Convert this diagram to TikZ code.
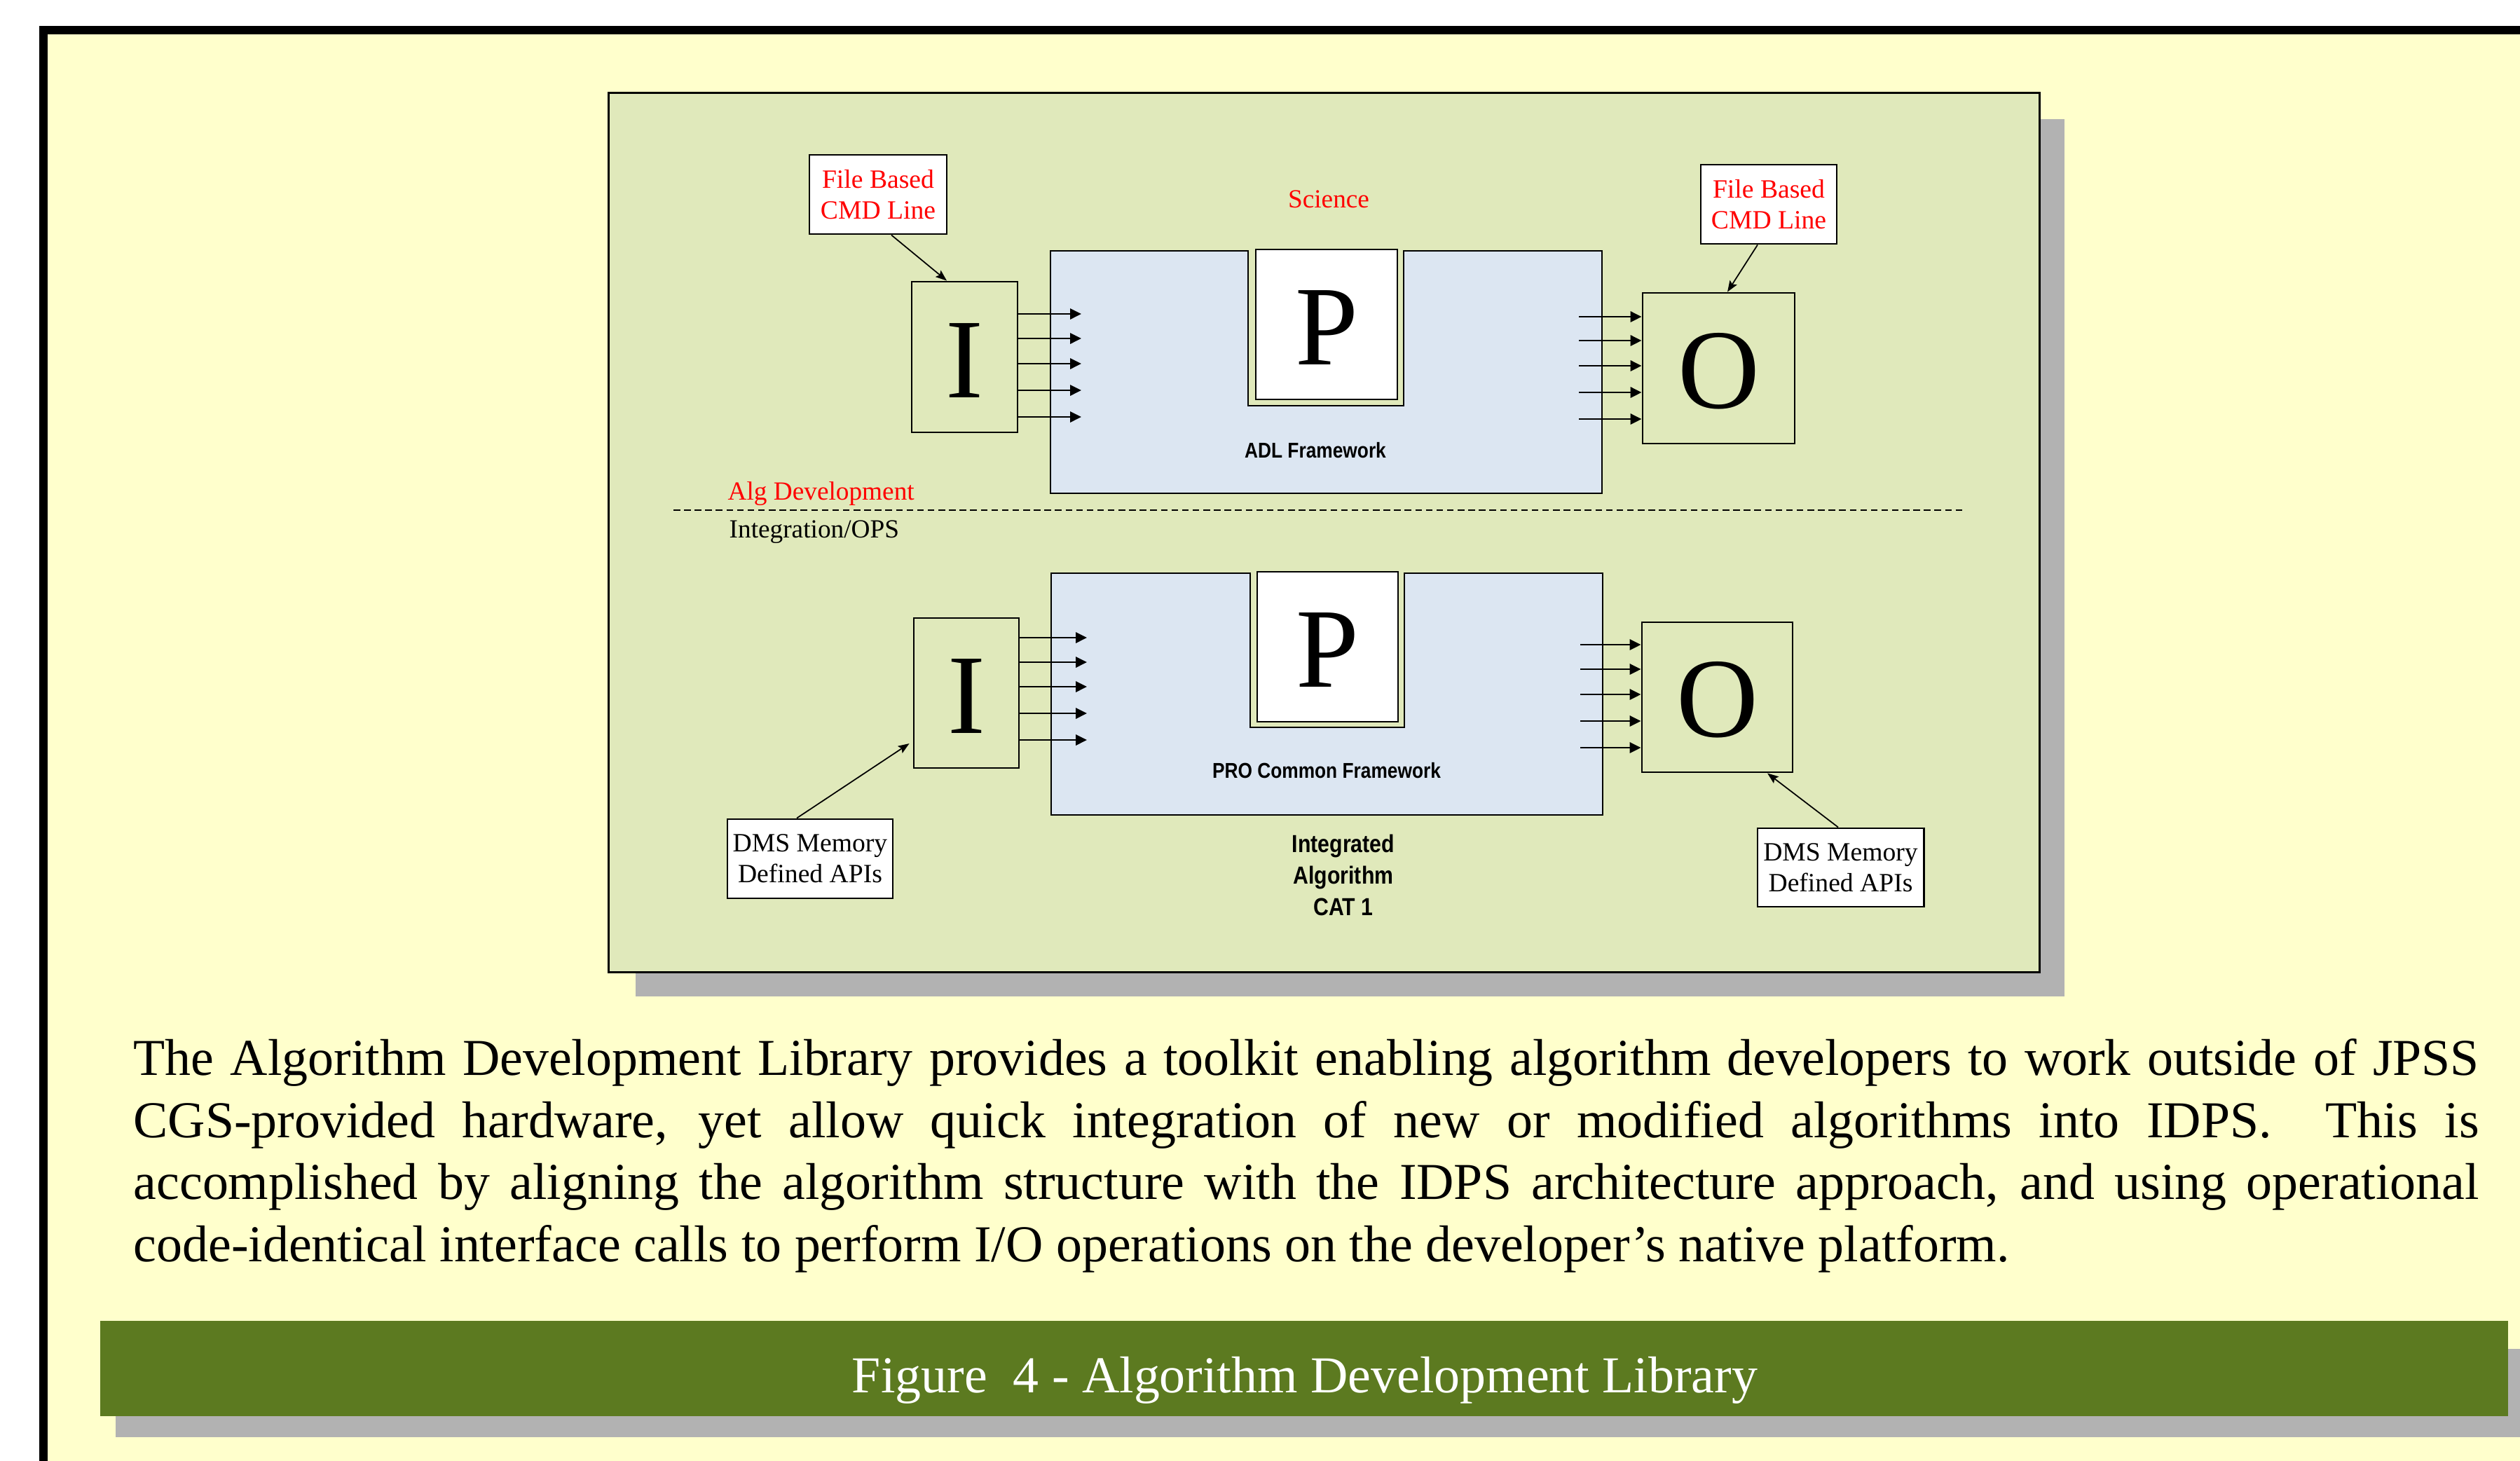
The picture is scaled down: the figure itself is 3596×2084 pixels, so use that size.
\documentclass[tikz,border=0pt]{standalone}
\usepackage{fontspec}
\setmainfont{Liberation Serif}
\newfontfamily\nbf[FakeStretch=0.86]{Liberation Sans}
\usetikzlibrary{arrows.meta,calc}
\definecolor{bgyellow}{HTML}{FFFFCC}
\definecolor{panelgreen}{HTML}{E0E9BB}
\definecolor{boxblue}{HTML}{DCE6F2}
\definecolor{shadowgray}{HTML}{B2B2B2}
\definecolor{capgreen}{HTML}{5C7A20}
\definecolor{labred}{HTML}{FF0000}
\begin{document}
\begin{tikzpicture}[x=0.01cm,y=-0.01cm,
  bluebox/.style={draw=black,fill=boxblue,line width=0.8pt},
  iobox/.style={draw=black,fill=panelgreen,line width=0.8pt,inner sep=0pt,
    font=\fontsize{46}{50}\selectfont,text height=32.7pt},
  pbox/.style={draw=black,fill=white,line width=0.8pt,inner sep=0pt,
    font=\fontsize{46}{50}\selectfont,text height=32.7pt},
  labbox/.style={draw=black,fill=white,line width=0.8pt,inner sep=0pt,align=center,
    font=\fontsize{10.7}{12.4}\selectfont},
  sarrow/.style={line width=0.7pt,-{Triangle[length=4.5pt,width=4.3pt]}},
  larrow/.style={line width=0.5pt,-{Stealth[length=4.5pt,width=3.4pt,inset=0.8pt]}},
  dashline/.style={line width=0.75pt,dash pattern=on 2.7pt off 1.6pt},
  serlab/.style={inner sep=0pt,font=\fontsize{10.6}{12.4}\selectfont},
  sanslab/.style={inner sep=0pt,font=\nbf\bfseries\fontsize{8.7}{10}\selectfont}
]
\useasboundingbox (0,0) rectangle (3596,2084);
\clip (0,0) rectangle (3596,2084);
\fill[white] (0,0) rectangle (3596,2084);
% outer frame
\fill[bgyellow] (62,43) rectangle (3700,2200);
\draw[line width=3.4pt] (62,2200) -- (62,43) -- (3700,43);

% panel
\fill[shadowgray] (907,170) rectangle (2946,1422);
\node[draw=black,fill=panelgreen,line width=0.8pt,inner sep=0pt,
  minimum width=20.41cm,minimum height=12.54cm] (panel) at (1889.5,760) {};

% framework boxes with notches
\path[bluebox] (1499,358) -- (1781,358) -- (1781,579) -- (2003,579) -- (2003,358)
  -- (2286,358) -- (2286,704) -- (1499,704) -- cycle;
\path[bluebox] (1500,818) -- (1784,818) -- (1784,1038) -- (2004,1038) -- (2004,818)
  -- (2287,818) -- (2287,1163) -- (1500,1163) -- cycle;

% P boxes
\node[pbox,minimum width=2.02cm,minimum height=2.14cm] (Ptop) at (1893,463) {P};
\node[pbox,minimum width=2.01cm,minimum height=2.14cm] (Pbot) at (1894.5,923) {P};

% I and O boxes
\node[iobox,minimum width=1.51cm,minimum height=2.15cm] (Itop) at (1376.5,509.5) {I};
\node[iobox,minimum width=2.17cm,minimum height=2.15cm] (Otop) at (2452.5,525.5) {O};
\node[iobox,minimum width=1.50cm,minimum height=2.14cm] (Ibot) at (1379,989) {I};
\node[iobox,minimum width=2.15cm,minimum height=2.14cm] (Obot) at (2450.5,995) {O};

% short arrows
\foreach \yy in {448,483,519,557,595}
  \draw[sarrow] (Itop.east |- 0,\yy) -- (1543,\yy);
\foreach \yy in {452,486,522,560,598}
  \draw[sarrow] (2253,\yy) -- (Otop.west |- 0,\yy);
\foreach \yy in {910,945,980,1018,1056}
  \draw[sarrow] (Ibot.east |- 0,\yy) -- (1551,\yy);
\foreach \yy in {920,955,991,1029,1067}
  \draw[sarrow] (2255,\yy) -- (Obot.west |- 0,\yy);

% label boxes
\node[labbox,text=labred,minimum width=1.96cm,minimum height=1.13cm] (fbl) at (1253,277.5) {File Based\\CMD Line};
\node[labbox,text=labred,minimum width=1.94cm,minimum height=1.13cm] (fbr) at (2524,291.5) {File Based\\CMD Line};
\node[labbox,minimum width=2.36cm,minimum height=1.13cm] (dmsl) at (1156,1225.5) {DMS Memory\\Defined APIs};
\node[labbox,minimum width=2.37cm,minimum height=1.12cm] (dmsr) at (2626.5,1238) {DMS Memory\\Defined APIs};

% label connectors
\draw[larrow] ([xshift=0.19cm]fbl.south) -- ([xshift=-0.255cm]Itop.north);
\draw[larrow] ([xshift=-0.16cm]fbr.south) -- ([xshift=0.125cm]Otop.north);
\draw[larrow] ([xshift=-0.19cm]dmsl.north) -- ([yshift=-0.72cm,xshift=-0.05cm]Ibot.west);
\draw[larrow] ([xshift=-0.035cm]dmsr.north) -- ([xshift=0.715cm]Obot.south);

% dashed divider
\coordinate (dl) at (961,728);
\coordinate (dr) at (2802,728);
\draw[dashline] (dl) -- (dr);

% texts
\node[serlab,text=labred,anchor=base] (sci) at (1896,296) {Science};
\node[serlab,text=labred,anchor=base west] (algdev) at (1038,713) {Alg Development};
\node[serlab,anchor=base west] (intops) at (1040,767) {Integration/OPS};
\node[sanslab,anchor=base] (adl) at (1877,653.5) {ADL Framework};
\node[sanslab,anchor=base] (pro) at (1893,1110) {PRO Common Framework};
\node[inner sep=0pt,align=center,font=\nbf\bfseries\fontsize{10}{12.8}\selectfont] (intalg) at (1917,1249) {Integrated\\Algorithm\\CAT 1};

% paragraph
\node[anchor=north west,inner sep=0pt,align=left,font=\fontsize{21}{25.2}\selectfont] (para) at (190,1482)
{\makebox[33.45cm][s]{The Algorithm Development Library provides a toolkit enabling algorithm developers to work outside of JPSS}\\
\makebox[33.45cm][s]{CGS-provided hardware, yet allow quick integration of new or modified algorithms into IDPS.\ \ This is}\\
\makebox[33.45cm][s]{accomplished by aligning the algorithm structure with the IDPS architecture approach, and using operational}\\
code-identical interface calls to perform I/O operations on the developer’s native platform.};

% caption bar
\fill[shadowgray] (165,1925) rectangle (3700,2051);
\node[fill=capgreen,inner sep=0pt,minimum width=34.34cm,minimum height=1.36cm] (capbar) at (1861,1953) {};
\node[inner sep=0pt,anchor=base,text=white,font=\fontsize{21}{25}\selectfont] (captxt) at (1862,1987) {Figure\ \ 4 - Algorithm Development Library};
\end{tikzpicture}
\end{document}
